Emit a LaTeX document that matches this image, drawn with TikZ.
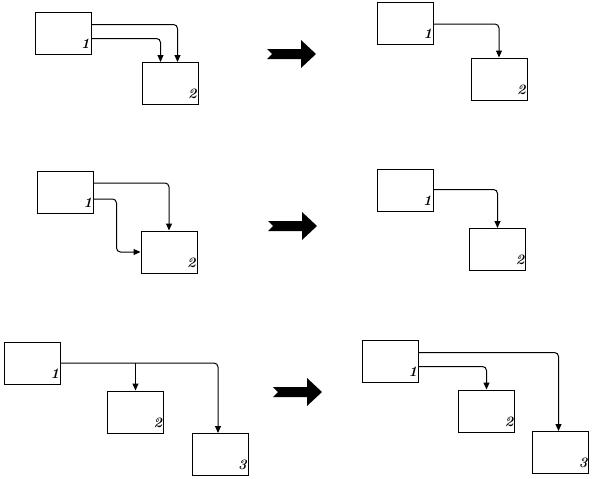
\documentclass[tikz,border=0pt]{standalone}
\usepackage{tikz}
\usetikzlibrary{arrows.meta}

\begin{document}
\begin{tikzpicture}[
    x=1pt, y=-1pt,
    >={Triangle[length=7pt,width=6pt]},
    caixa/.style={
        rectangle,
        draw,
        line width=1pt,
        minimum width=56pt,
        minimum height=42pt,
        inner sep=0pt
    },
    num/.style={
        inner sep=0pt,
        font=\Large\bfseries\itshape
    },
    liga/.style={->, line width=1pt, rounded corners=4pt},
    setao/.pic={
        \fill (-24,-5) -- (10,-5) -- (10,-14) -- (25,0) -- (10,14)
              -- (10,5) -- (-24,5) -- (-19,0) -- cycle;
    }
]
\useasboundingbox (0,0) rectangle (592,479);

% linha 1
\node[caixa] (a1) at (63,33) {};
\node[caixa] (b1) at (170,83.5) {};
\node[num] (a1n) at ([shift={(-6,-11)}]a1.south east) {1};
\node[num] (b1n) at ([shift={(-6,-11)}]b1.south east) {2};
\draw[liga] ([yshift=-13pt]a1.north east) -| ([xshift=36pt]b1.north west);
\draw[liga] ([yshift=-27pt]a1.north east) -| ([xshift=19pt]b1.north west);

\pic at (291,54) {setao};

\node[caixa] (c1) at (405.5,23.5) {};
\node[caixa] (d1) at (499,79) {};
\node[num] (c1n) at ([shift={(-6,-11)}]c1.south east) {1};
\node[num] (d1n) at ([shift={(-6,-11)}]d1.south east) {2};
\draw[liga] ([yshift=-22pt]c1.north east) -| (d1.north);

% linha 2
\node[caixa] (a2) at (65.5,192.5) {};
\node[caixa] (b2) at (169,252) {};
\node[num] (a2n) at ([shift={(-6,-11)}]a2.south east) {1};
\node[num] (b2n) at ([shift={(-6,-11)}]b2.south east) {2};
\draw[liga] ([yshift=-12pt]a2.north east) -| (b2.north);
\draw[liga] ([yshift=-28pt]a2.north east) -| ([xshift=-24pt]b2.west) -- (b2.west);

\pic at (292,226) {setao};

\node[caixa] (c2) at (405,190) {};
\node[caixa] (d2) at (497.5,249.5) {};
\node[num] (c2n) at ([shift={(-6,-11)}]c2.south east) {1};
\node[num] (d2n) at ([shift={(-6,-11)}]d2.south east) {2};
\draw[liga] ([yshift=-21pt]c2.north east) -| (d2.north);

% linha 3
\node[caixa] (a3) at (32.5,363) {};
\node[caixa] (b3) at (135.5,412) {};
\node[caixa] (e3) at (220,454.5) {};
\node[num] (a3n) at ([shift={(-6,-11)}]a3.south east) {1};
\node[num] (b3n) at ([shift={(-6,-11)}]b3.south east) {2};
\node[num] (e3n) at ([shift={(-6,-11)}]e3.south east) {3};
\draw[liga] (a3.east) -| ([xshift=-2pt]e3.north);
\draw[liga] (b3.north |- a3.east) -- (b3.north);

\pic at (297,392) {setao};

\node[caixa] (c3) at (390.5,361) {};
\node[caixa] (d3) at (486.5,411) {};
\node[caixa] (f3) at (560.5,452.5) {};
\node[num] (c3n) at ([shift={(-6,-11)}]c3.south east) {1};
\node[num] (d3n) at ([shift={(-6,-11)}]d3.south east) {2};
\node[num] (f3n) at ([shift={(-6,-11)}]f3.south east) {3};
\draw[liga] ([yshift=-13pt]c3.north east) -| ([xshift=-2pt]f3.north);
\draw[liga] ([yshift=-27pt]c3.north east) -| (d3.north);

\end{tikzpicture}
\end{document}
